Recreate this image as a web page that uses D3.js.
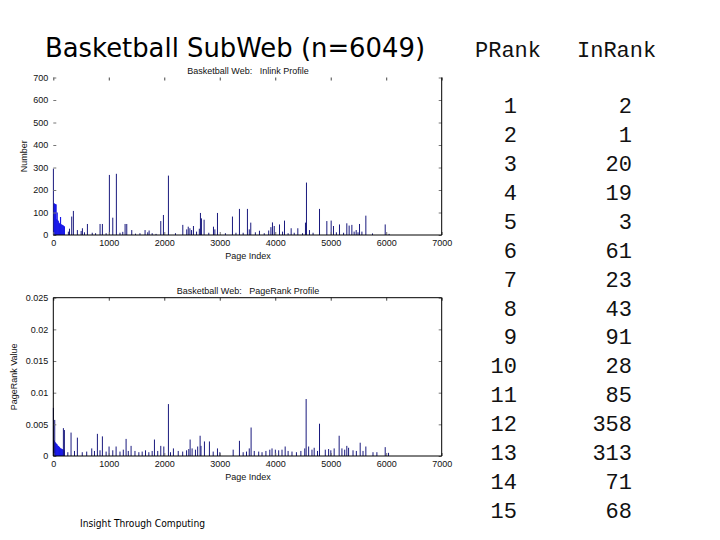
<!DOCTYPE html>
<meta charset="utf-8">
<style>
body{ margin:0; background:#fff; }
text{ font-family:"Liberation Sans", Arial, sans-serif; }
.tick text{ font-size:9px; fill:#111; }
.small{ font-size:9px; fill:#111; white-space:pre; }
.title{ font-family:"Comic Sans MS","DejaVu Sans",sans-serif; font-size:27px; }
.mono{ font-family:"Liberation Mono","Courier New",monospace; font-size:22px; fill:#111; }
.frame{ stroke:#000; stroke-width:1; fill:none; }
</style>
<body>
<script src="https://d3js.org/d3.v7.min.js"></script>
<script>

// inlink counts: dense head block (pages 0..190, step 10) + isolated spikes
var inDensePages = [0,10,20,30,40,50,60,70,80,90,100,110,120,130,140,150,160,170,180,190];
var inDenseValues = [140,140,138,137,136,70,100,67,62,55,52,50,80,48,46,45,44,42,40,38];
var inSpikes = [[0,295],[270,15],[290,28],[330,82],[360,107],[432,22],[500,18],[523,30],[560,12],[613,49],
  [700,10],[760,8],[841,49],[883,49],[950,8],[1009,267],[1070,77],[1135,272],[1200,10],[1250,14],
  [1292,49],[1322,49],[1412,22],[1480,6],[1560,8],[1652,22],[1700,12],[1725,20],[1780,8],[1850,5],
  [1935,62],[1983,89],[2073,264],[2200,8],[2332,45],[2403,25],[2430,37],[2460,30],[2490,22],[2524,40],
  [2580,15],[2630,28],[2650,98],[2668,74],[2716,68],[2800,10],[2885,37],[2910,25],[2957,98],[3100,8],
  [3227,82],[3290,10],[3353,116],[3420,10],[3497,116],[3530,25],[3557,55],[3640,12],[3714,19],[3800,8],
  [3880,20],[3920,35],[3948,56],[3980,40],[4075,47],[4130,15],[4165,64],[4230,8],[4285,30],[4340,10],
  [4405,30],[4490,8],[4543,55],[4561,233],[4615,22],[4680,10],[4796,116],[4928,62],[5006,64],[5048,40],
  [5100,12],[5156,47],[5230,10],[5288,52],[5330,42],[5379,45],[5420,15],[5457,22],[5490,12],[5517,49],
  [5560,15],[5631,86],[5751,7],[5980,47],[6050,5]];

// pagerank values
var prDensePages = [0,10,20,30,40,50,60,70,80,90,100,110,120,130,140,150,160,170,180,190];
var prDenseValues = [0.0025,0.0024,0.0022,0.0021,0.0020,0.0019,0.0018,0.0016,0.0016,0.0015,
  0.0014,0.0013,0.0012,0.0012,0.0011,0.0011,0.0010,0.0010,0.0009,0.0009];
var prSpikes = [[0,0.0076],[24,0.0057],[180,0.0044],[198,0.0041],[260,0.0006],[318,0.0037],[380,0.0008],
  [432,0.0029],[520,0.0006],[600,0.0007],[691,0.0012],[740,0.0008],[793,0.0035],[840,0.0009],[883,0.0031],
  [950,0.0007],[1003,0.0015],[1070,0.0009],[1130,0.0015],[1200,0.0007],[1260,0.0010],[1310,0.0027],
  [1350,0.0008],[1400,0.0016],[1470,0.0008],[1540,0.0006],[1600,0.0007],[1660,0.0009],[1720,0.0006],
  [1780,0.0008],[1821,0.0026],[1880,0.0008],[1935,0.0016],[1990,0.0015],[2073,0.0082],[2110,0.0006],
  [2163,0.0012],[2250,0.0008],[2330,0.0007],[2400,0.0009],[2440,0.0011],[2464,0.0026],[2500,0.0012],
  [2560,0.0010],[2600,0.0015],[2644,0.0032],[2660,0.0016],[2722,0.0023],[2812,0.0023],[2880,0.0007],
  [2957,0.0012],[3000,0.0006],[3240,0.0010],[3353,0.0024],[3420,0.0006],[3480,0.0007],[3530,0.0012],
  [3563,0.0045],[3620,0.0008],[3700,0.0007],[3760,0.0006],[3830,0.0008],[3900,0.0010],[3940,0.0012],
  [4000,0.0010],[4060,0.0009],[4120,0.0010],[4177,0.0015],[4230,0.0008],[4300,0.0007],[4380,0.0006],
  [4460,0.0008],[4530,0.0012],[4555,0.0090],[4600,0.0015],[4660,0.0010],[4700,0.0013],[4760,0.0008],
  [4796,0.0051],[4900,0.0010],[4960,0.0011],[5000,0.0009],[5060,0.0012],[5150,0.0032],[5200,0.0012],
  [5250,0.0010],[5288,0.0016],[5320,0.0013],[5400,0.0009],[5460,0.0008],[5529,0.0021],[5580,0.0008],
  [5631,0.0015],[5760,0.0006],[5830,0.0006],[5980,0.0014],[6040,0.0005]];

var xTicks = [0,1000,2000,3000,4000,5000,6000,7000];
var inTicks = [0,100,200,300,400,500,600,700];
var prTicks = [0,0.005,0.01,0.015,0.02,0.025];

var pRank = [1,2,3,4,5,6,7,8,9,10,11,12,13,14,15];
var inRank = [2,1,20,19,3,61,23,43,91,28,85,358,313,71,68];

var svg = d3.select("body").append("svg").attr("width",720).attr("height",540);

svg.append("text").attr("class","title").attr("x",45).attr("y",57)
  .attr("textLength",380).attr("lengthAdjust","spacingAndGlyphs")
  .text("Basketball SubWeb (n=6049)");

function panel(top, bottom, yMax, yTicks, fmt, dPages, dVals, spikes, title, ylab, ylabX){
  var x = d3.scaleLinear().domain([0,7000]).range([53.3,441.7]);
  var y = d3.scaleLinear().domain([0,yMax]).range([bottom,top]);
  var g = svg.append("g");

  g.append("text").attr("class","small").attr("x",248).attr("y",top-3.5)
    .attr("text-anchor","middle").text(title);

  // dense head block
  g.selectAll(".dense").data(dPages).join("rect")
    .attr("x",d=>x(d)).attr("width",d=>x(d+10)-x(d)+0.6)
    .attr("y",(d,i)=>y(dVals[i])).attr("height",(d,i)=>bottom-y(dVals[i]))
    .attr("fill","#1818e8");

  // single-page spikes
  g.selectAll(".spike").data(spikes).join("rect")
    .attr("x",d=>x(d[0])-0.4).attr("width",1)
    .attr("y",d=>y(d[1])).attr("height",d=>bottom-y(d[1]))
    .attr("fill","#1a1a7e");

  var xa = g.append("g").attr("transform","translate(0,"+bottom+")")
    .call(d3.axisBottom(x).tickValues(xTicks).tickSize(-3).tickPadding(5).tickFormat(d3.format("d")));
  xa.select(".domain").remove();
  xa.selectAll("line").attr("stroke","#777");

  var xt = g.append("g").attr("transform","translate(0,"+top+")")
    .call(d3.axisTop(x).tickValues(xTicks).tickSize(-3).tickFormat(""));
  xt.select(".domain").remove();
  xt.selectAll("line").attr("stroke","#444");

  var ya = g.append("g").attr("transform","translate(53.3,0)")
    .call(d3.axisLeft(y).tickValues(yTicks).tickSize(-3).tickPadding(5).tickFormat(fmt));
  ya.select(".domain").remove();
  ya.selectAll("line").attr("stroke","#777");

  var yr = g.append("g").attr("transform","translate(441.7,0)")
    .call(d3.axisRight(y).tickValues(yTicks).tickSize(-3).tickFormat(""));
  yr.select(".domain").remove();
  yr.selectAll("line").attr("stroke","#777");

  g.append("line").attr("class","frame").attr("x1",53.3).attr("x2",441.7).attr("y1",bottom).attr("y2",bottom);
  g.append("line").attr("class","frame").attr("x1",441.7).attr("x2",441.7).attr("y1",top).attr("y2",bottom);

  g.append("text").attr("class","small").attr("x",248).attr("y",bottom+24)
    .attr("text-anchor","middle").text("Page Index");
  g.append("text").attr("class","small").attr("text-anchor","middle")
    .attr("transform","translate("+ylabX+","+((top+bottom)/2)+") rotate(-90)").text(ylab);
  return g;
}

var g1 = panel(77.5, 235, 700, inTicks, d3.format("d"), inDensePages, inDenseValues, inSpikes,
  "Basketball Web:   Inlink Profile", "Number", 27);

var g2 = panel(297.7, 456, 0.025, prTicks, d=>d===0?"0":String(+d.toFixed(3)), prDensePages, prDenseValues, prSpikes,
  "Basketball Web:   PageRank Profile", "PageRank Value", 17);
// bottom panel has a full box
g2.append("line").attr("class","frame").attr("x1",53.3).attr("x2",441.7).attr("y1",297.7).attr("y2",297.7);
g2.append("line").attr("class","frame").attr("x1",53.3).attr("x2",53.3).attr("y1",297.7).attr("y2",456);

svg.append("text").attr("x",80).attr("y",527)
  .style("font-family",'"Comic Sans MS","DejaVu Sans",sans-serif').style("font-size","10px")
  .attr("textLength",125).attr("lengthAdjust","spacingAndGlyphs")
  .text("Insight Through Computing");

// rank table
svg.append("text").attr("class","mono").attr("x",475).attr("y",57).text("PRank");
svg.append("text").attr("class","mono").attr("x",577).attr("y",57).text("InRank");

var rowY = d3.scalePoint().domain(pRank).range([113,518]);
svg.selectAll(".pr").data(pRank).join("text").attr("class","mono")
  .attr("x",517).attr("y",d=>rowY(d)).attr("text-anchor","end").text(d=>d);
svg.selectAll(".ir").data(inRank).join("text").attr("class","mono")
  .attr("x",632).attr("y",(d,i)=>rowY(pRank[i])).attr("text-anchor","end").text(d=>d);
</script>
</body>
</html>
